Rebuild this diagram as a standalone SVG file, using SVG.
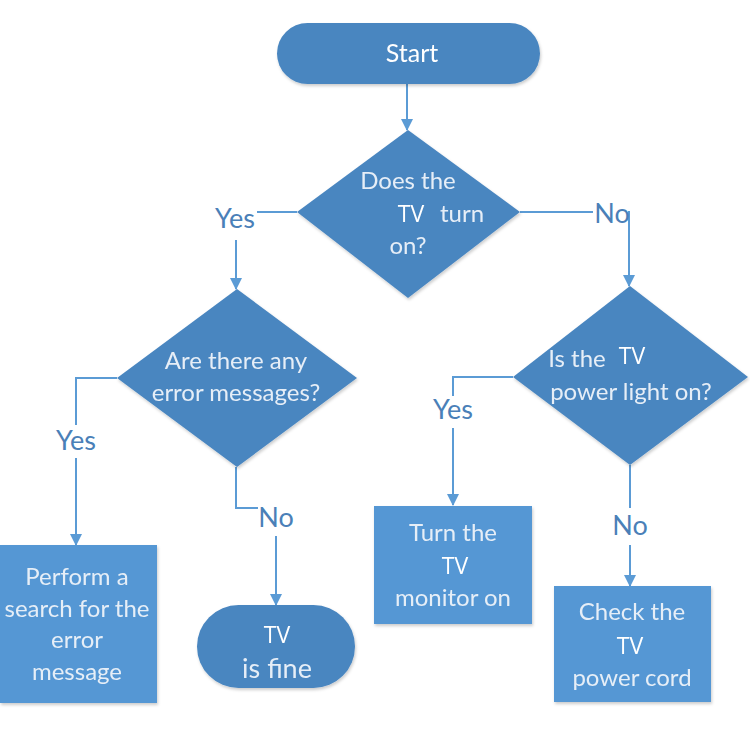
<svg xmlns="http://www.w3.org/2000/svg" width="750" height="750" viewBox="0 0 750 750">
<style>
.dk{fill:#4a86c0}
.lt{fill:#5497d4}
.t{font-family:Lato,"Open Sans",sans-serif;font-size:24px;fill:#e6eef7;text-anchor:middle}
.tv{font-family:"Open Sans",sans-serif;font-size:23px;fill:#ffffff;text-anchor:middle}
.lbl{font-family:Lato,"Open Sans",sans-serif;font-size:27px;fill:#4a80b8;text-anchor:middle}
.c{fill:none;stroke:#5b9bd5;stroke-width:2}
</style>
<defs>
<marker id="ah" viewBox="0 0 12 12" refX="11" refY="6" markerWidth="12" markerHeight="12" markerUnits="userSpaceOnUse" orient="auto">
<path d="M0,0 L12,6 L0,12 Z" fill="#5b9bd5"/>
</marker>
<filter id="sh" x="-10%" y="-10%" width="120%" height="120%">
<feDropShadow dx="1" dy="2" stdDeviation="1.5" flood-color="#000" flood-opacity="0.2"/>
</filter>
</defs>
<rect width="750" height="750" fill="#fff"/>
<g id="connectors">
<path class="c" d="M407,84 V130" marker-end="url(#ah)"/>
<path class="c" d="M297,212 H257"/>
<path class="c" d="M236,240 V289" marker-end="url(#ah)"/>
<path class="c" d="M520,212 H593"/>
<path class="c" d="M628,212 H629 V286" marker-end="url(#ah)"/>
<path class="c" d="M117,378 H76 V425"/>
<path class="c" d="M76,458 V545" marker-end="url(#ah)"/>
<path class="c" d="M236,467 V508 H258"/>
<path class="c" d="M276,536 V605" marker-end="url(#ah)"/>
<path class="c" d="M513,377 H453 V396"/>
<path class="c" d="M453,428 V505" marker-end="url(#ah)"/>
<path class="c" d="M630,465 V508"/>
<path class="c" d="M630,545 V586" marker-end="url(#ah)"/>
<text class="lbl" x="235" y="228">Yes</text>
<text class="lbl" x="612" y="223">No</text>
<text class="lbl" x="76" y="450">Yes</text>
<text class="lbl" x="276" y="527">No</text>
<text class="lbl" x="453" y="419">Yes</text>
<text class="lbl" x="630" y="535">No</text>
</g>
<g id="start" filter="url(#sh)">
<rect class="dk" x="277" y="23" width="263" height="61" rx="30.5"/>
<text class="t" x="412" y="62" style="font-size:25px;fill:#fff">Start</text>
</g>
<g id="d1" filter="url(#sh)">
<polygon class="dk" points="408,130 520,212 408,298 297,212"/>
<text class="t" x="408" y="189">Does the</text>
<text class="tv" x="411" y="222">TV</text>
<text class="t" x="462" y="222">turn</text>
<text class="t" x="408" y="254">on?</text>
</g>
<g id="d2" filter="url(#sh)">
<polygon class="dk" points="237,289 357,378 237,467 117,378"/>
<text class="t" x="236" y="369">Are there any</text>
<text class="t" x="236" y="401">error messages?</text>
</g>
<g id="d3" filter="url(#sh)">
<polygon class="dk" points="630,286 748,377 630,465 513,377"/>
<text class="t" x="577" y="367">Is the</text>
<text class="tv" x="632" y="364">TV</text>
<text class="t" x="631" y="400">power light on?</text>
</g>
<g id="b1" filter="url(#sh)">
<rect class="lt" x="0" y="545" width="157" height="158"/>
<text class="t" x="77" y="585">Perform a</text>
<text class="t" x="77" y="617">search for the</text>
<text class="t" x="77" y="648">error</text>
<text class="t" x="77" y="680">message</text>
</g>
<g id="fine" filter="url(#sh)">
<rect class="dk" x="197" y="605" width="158" height="83" rx="41.5"/>
<text class="tv" x="277" y="643">TV</text>
<text class="t" x="277" y="678" style="font-size:27px">is fine</text>
</g>
<g id="b3" filter="url(#sh)">
<rect class="lt" x="374" y="506" width="158" height="118"/>
<text class="t" x="453" y="541">Turn the</text>
<text class="tv" x="455" y="574">TV</text>
<text class="t" x="453" y="606">monitor on</text>
</g>
<g id="b4" filter="url(#sh)">
<rect class="lt" x="554" y="586" width="157" height="116"/>
<text class="t" x="632" y="620">Check the</text>
<text class="tv" x="630" y="654">TV</text>
<text class="t" x="632" y="686">power cord</text>
</g>
</svg>
